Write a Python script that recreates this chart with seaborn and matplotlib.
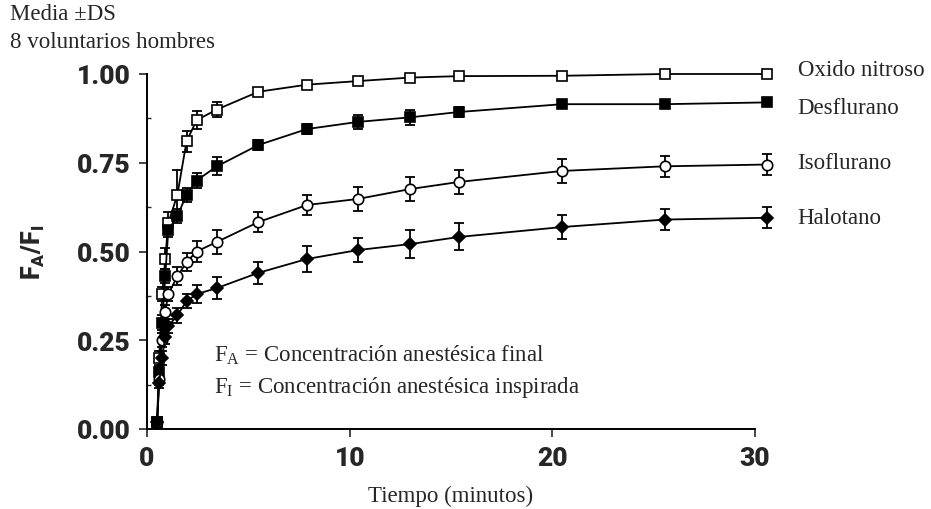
import matplotlib
matplotlib.use("Agg")
import matplotlib.pyplot as plt
import numpy as np
import pandas as pd
import seaborn as sns

# ---- data ----
tiempo = [0.5, 0.6, 0.75, 0.9, 1.05, 1.5, 1.95, 2.45, 3.45, 5.5, 7.9, 10.4, 13.0, 15.4, 20.5, 25.55, 30.6]

oxido = [0.02, 0.20, 0.38, 0.48, 0.58, 0.66, 0.81, 0.87, 0.90, 0.95, 0.97, 0.98, 0.99, 0.994, 0.995, 1.0, 1.0]
oxido_sd = [0.0, 0.02, 0.02, 0.03, 0.03, 0.07, 0.03, 0.025, 0.022, 0.01, 0.01, 0.01, 0.008, 0.005, 0.005, 0.005, 0.005]

desflurano = [0.02, 0.16, 0.30, 0.43, 0.56, 0.60, 0.66, 0.70, 0.74, 0.80, 0.845, 0.865, 0.878, 0.893, 0.915, 0.915, 0.92]
desflurano_sd = [0.0, 0.015, 0.02, 0.02, 0.02, 0.02, 0.02, 0.02, 0.025, 0.015, 0.015, 0.02, 0.022, 0.015, 0.01, 0.01, 0.01]

isoflurano = [0.02, 0.14, 0.25, 0.33, 0.38, 0.43, 0.47, 0.50, 0.527, 0.583, 0.631, 0.648, 0.676, 0.696, 0.727, 0.74, 0.745]
isoflurano_sd = [0.0, 0.015, 0.02, 0.02, 0.02, 0.025, 0.025, 0.03, 0.034, 0.028, 0.028, 0.035, 0.034, 0.034, 0.034, 0.03, 0.03]

halotano = [0.02, 0.13, 0.20, 0.26, 0.29, 0.32, 0.36, 0.38, 0.397, 0.44, 0.479, 0.504, 0.521, 0.541, 0.569, 0.59, 0.595]
halotano_sd = [0.0, 0.015, 0.02, 0.02, 0.02, 0.02, 0.02, 0.025, 0.032, 0.031, 0.037, 0.034, 0.04, 0.038, 0.035, 0.03, 0.03]

series = ["Oxido nitroso", "Desflurano", "Isoflurano", "Halotano"]
valores = [oxido, desflurano, isoflurano, halotano]
desvios = [oxido_sd, desflurano_sd, isoflurano_sd, halotano_sd]
etiqueta_y = [1.014, 0.907, 0.752, 0.597]

x_ticks = [0, 10, 20, 30]
y_ticks = [0.00, 0.25, 0.50, 0.75, 1.00]
y_ticklabels = ["0.00", "0.25", "0.50", "0.75", "1.00"]

# ---- styling ----
sns.set_style("ticks")
plt.rcParams["font.family"] = ["Liberation Serif", "DejaVu Serif"]
plt.rcParams["mathtext.fontset"] = "custom"
plt.rcParams["mathtext.rm"] = "Liberation Serif"
plt.rcParams["mathtext.it"] = "Liberation Serif:italic"
plt.rcParams["mathtext.bf"] = "Roboto:black"

TXT = 16.5

styles = {
    "Oxido nitroso": dict(marker="s", markerfacecolor="white", markersize=6.5),
    "Desflurano": dict(marker="s", markerfacecolor="black", markersize=6.5),
    "Isoflurano": dict(marker="o", markerfacecolor="white", markersize=7.5),
    "Halotano": dict(marker="D", markerfacecolor="black", markersize=6.5),
}

rows = []
for name, vals in zip(series, valores):
    for t, v in zip(tiempo, vals):
        rows.append({"serie": name, "t": t, "v": v})
df = pd.DataFrame(rows)

fig = plt.figure(figsize=(9.31, 5.10), dpi=100)
ax = fig.add_axes([147 / 931, 80 / 510, (755 - 147) / 931, (430 - 75) / 510])

for name, sd in zip(series, desvios):
    sub = df[df["serie"] == name]
    ax.errorbar(sub["t"], sub["v"], yerr=sd, fmt="none", ecolor="black",
                elinewidth=1.3, capsize=3.5, capthick=1.3, zorder=2, clip_on=False)
    sns.lineplot(data=sub, x="t", y="v", ax=ax, color="black", linewidth=1.3,
                 markeredgecolor="black", markeredgewidth=1.2, legend=False,
                 zorder=3, clip_on=False, estimator=None, sort=False,
                 **styles[name])

for name, yy in zip(series, etiqueta_y):
    ax.text(32.1, yy, name, fontsize=TXT, va="center", ha="left", clip_on=False)

ax.set_xlim(0, 30)
ax.set_ylim(0, 1)
ax.set_xticks(x_ticks)
ax.set_yticks(y_ticks)
ax.set_yticklabels(y_ticklabels)
ax.set_yticks(np.arange(0.125, 1.0, 0.25), minor=True)
ax.tick_params(axis="y", which="minor", direction="in", length=3, width=1)
ax.tick_params(axis="both", which="major", length=6, width=1.2, direction="out", pad=6)
for lab in ax.get_xticklabels() + ax.get_yticklabels():
    lab.set_family(["Roboto", "DejaVu Sans"])
    lab.set_fontweight("black")
    lab.set_fontsize(19)

sns.despine(ax=ax)
for sp in ["left", "bottom"]:
    ax.spines[sp].set_linewidth(1.4)
    ax.spines[sp].set_color("black")

ax.set_xlabel("Tiempo (minutos)", fontsize=TXT, labelpad=11)
ax.set_ylabel(r"$\mathbf{F_A/F_I}$", fontsize=18, labelpad=21)

ax.text(3.3, 0.211, r"F$_\mathrm{A}$ = Concentración anestésica final", fontsize=TXT, va="center")
ax.text(3.3, 0.121, r"F$_\mathrm{I}$ = Concentración anestésica inspirada", fontsize=TXT, va="center")

fig.text(10 / 931, 1 - 15 / 510, "Media ±DS", fontsize=TXT, va="center", ha="left")
fig.text(10 / 931, 1 - 43 / 510, "8 voluntarios hombres", fontsize=TXT, va="center", ha="left")

fig.savefig("out.png", dpi=100)
